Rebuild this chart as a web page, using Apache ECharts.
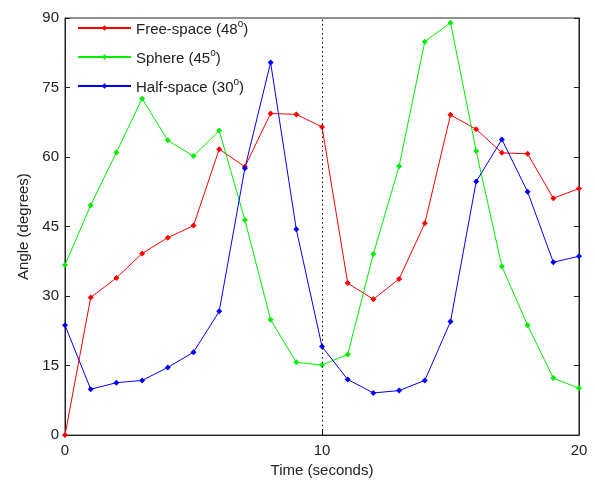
<!DOCTYPE html>
<html>
<head>
<meta charset="utf-8">
<script src="https://cdn.jsdelivr.net/npm/echarts@6/dist/echarts.min.js"></script>
<style>
    html, body { margin: 0; padding: 0; background: #fff; }
    #main { width: 595px; height: 483px; }
</style>
</head>
<body>
<div id="main"></div>
<script>
// 时间轴 (秒)
var timeSec = [0,1,2,3,4,5,6,7,8,9,10,11,12,13,14,15,16,17,18,19,20];

// 各曲线数值 (度)
var freeSpace = [0,29.7,33.9,39.2,42.6,45.2,61.7,57.9,69.4,69.2,66.5,32.8,29.3,33.7,45.7,69.1,66.0,60.9,60.7,51.1,53.2];
var sphere = [36.7,49.6,61.0,72.6,63.6,60.2,65.7,46.4,24.9,15.7,15.1,17.4,39.1,58.0,84.9,89.0,61.3,36.4,23.7,12.3,10.1];
var halfSpace = [23.7,9.9,11.3,11.8,14.6,17.9,26.7,57.6,80.4,44.4,19.1,12.0,9.1,9.6,11.8,24.5,54.7,63.8,52.5,37.3,38.6];

var seriesNames = ['Free-space', 'Sphere', 'Half-space'];
var seriesAngles = ['48', '45', '30'];
var seriesColors = ['#ff0000', '#00ee00', '#0000ff'];

function pairs(vals) {
    return vals.map(function (v, i) { return [timeSec[i], v]; });
}

var mchart = echarts.init(document.getElementById('main'));
var allData = [freeSpace, sphere, halfSpace];

var series = allData.map(function (vals, k) {
    var s = {
        name: seriesNames[k],
        type: 'line',
        data: pairs(vals),
        symbol: 'diamond',
        symbolSize: 6,
        color: seriesColors[k],
        lineStyle: { width: 1, color: seriesColors[k] },
        itemStyle: { color: seriesColors[k] },
        animation: false
    };
    if (k === 0) {
        // 10秒处的虚线
        s.markLine = {
            silent: true,
            symbol: 'none',
            label: { show: false },
            lineStyle: { color: '#000', type: [1.5, 3], width: 1 },
            data: [{ xAxis: 10 }]
        };
    }
    return s;
});

var option = {
    backgroundColor: '#fff',
    textStyle: { fontFamily: 'Arial, "Liberation Sans", sans-serif' },
    grid: {
        left: 65, right: 16, top: 18, bottom: 45,
        show: true, borderColor: '#222', borderWidth: 1
    },
    legend: {
        orient: 'vertical',
        left: 72,
        top: 14,
        itemWidth: 53,
        itemHeight: 7,
        itemGap: 11,
        data: seriesNames,
        formatter: function (name) {
            var i = seriesNames.indexOf(name);
            return '{a|' + name + ' (' + seriesAngles[i] + '}{s|o}{a|)}';
        },
        textStyle: {
            rich: {
                a: { fontSize: 15, color: '#222', verticalAlign: 'bottom', lineHeight: 18 },
                s: { fontSize: 10, color: '#222', verticalAlign: 'top', lineHeight: 18, padding: [0, 0, 6, 0] }
            }
        }
    },
    xAxis: {
        type: 'value',
        min: 0, max: 20, interval: 10,
        name: 'Time (seconds)',
        nameLocation: 'middle',
        nameGap: 26,
        nameTextStyle: { fontSize: 15, color: '#222' },
        axisLine: { lineStyle: { color: '#222' } },
        axisTick: { inside: true, length: 5, lineStyle: { color: '#222' } },
        axisLabel: { fontSize: 15, color: '#222', margin: 8 },
        splitLine: { show: false }
    },
    yAxis: [{
        type: 'value',
        min: 0, max: 90, interval: 15,
        name: 'Angle (degrees)',
        nameLocation: 'middle',
        nameGap: 33,
        nameTextStyle: { fontSize: 15, color: '#222' },
        axisLine: { lineStyle: { color: '#222' } },
        axisTick: { inside: true, length: 5, lineStyle: { color: '#222' } },
        axisLabel: { fontSize: 15, color: '#222', margin: 6 },
        splitLine: { show: false }
    }, {
        type: 'value',
        position: 'right',
        min: 0, max: 90, interval: 15,
        axisLine: { show: true, lineStyle: { color: '#222' } },
        axisTick: { inside: true, length: 5, lineStyle: { color: '#222' } },
        axisLabel: { show: false },
        splitLine: { show: false }
    }],
    series: series
};
mchart.setOption(option);
</script>
</body>
</html>
